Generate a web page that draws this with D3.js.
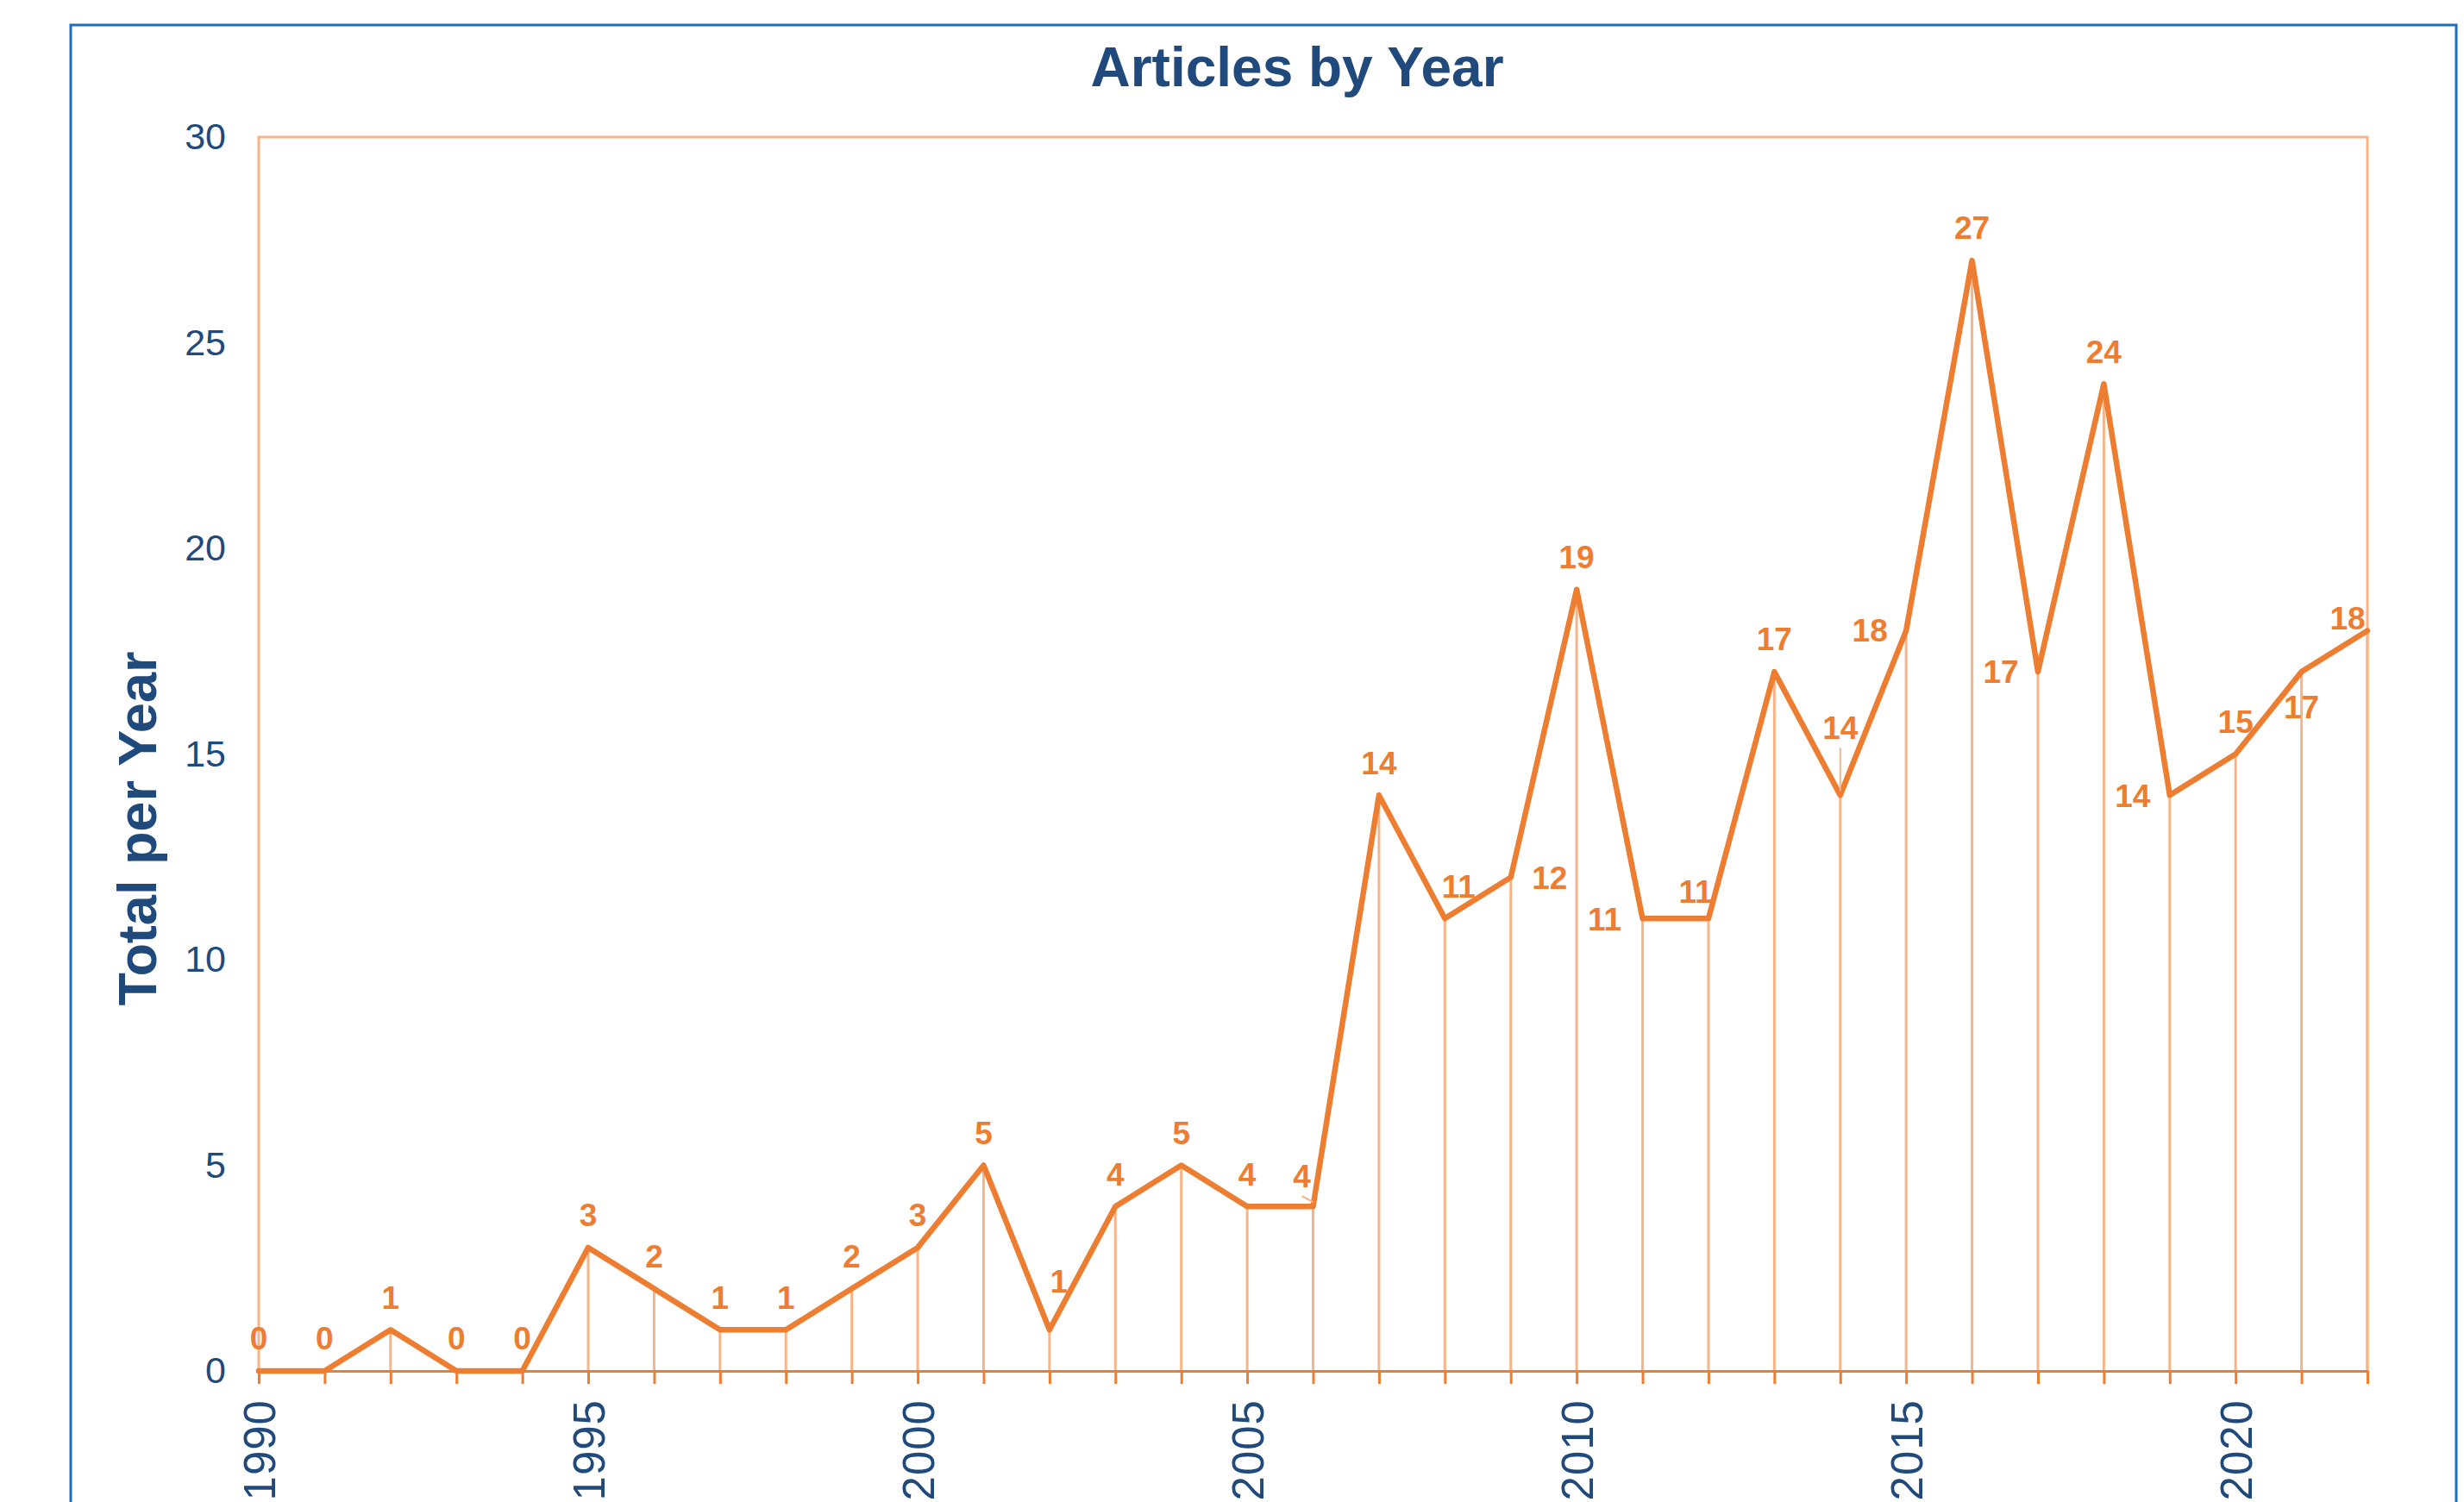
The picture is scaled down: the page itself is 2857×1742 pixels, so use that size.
<!DOCTYPE html>
<html>
<head>
<meta charset="utf-8">
<script src="https://cdn.jsdelivr.net/npm/d3@7"></script>
<style>
  body { margin: 0; background: #fff; }
  text { font-family: "Liberation Sans", Arial, Helvetica, sans-serif; }
</style>
</head>
<body>
<script>
// Articles by Year - line chart with drop lines

var years = [1990, 1991, 1992, 1993, 1994, 1995, 1996, 1997, 1998, 1999,
             2000, 2001, 2002, 2003, 2004, 2005, 2006, 2007, 2008, 2009,
             2010, 2011, 2012, 2013, 2014, 2015, 2016, 2017, 2018, 2019,
             2020, 2021, 2022];
var articles = [0, 0, 1, 0, 0, 3, 2, 1, 1, 2,
                3, 5, 1, 4, 5, 4, 4, 14, 11, 12,
                19, 11, 11, 17, 14, 18, 27, 17, 24, 14,
                15, 17, 18];
var yTicks = [0, 5, 10, 15, 20, 25, 30];
var xLabelYears = [1990, 1995, 2000, 2005, 2010, 2015, 2020];

// data labels sit above the point unless moved here (dx, dy from the point)
var labelNudge = {
  2002: [11, -57], 2006: [-13, -36], 2008: [16, -38], 2009: [45, 0],
  2011: [-44, 0], 2012: [-15, -32], 2014: [0, -79], 2015: [-42, -1],
  2017: [-43, 0], 2019: [-43, 0], 2021: [0, 41], 2022: [-23, -15]
};
var leaderYears = [2006, 2014];

var W = 2857, H = 1742;
var margin = {top: 159, right: W - 2745, bottom: H - 1590, left: 300},
    width = W - margin.left - margin.right,
    height = H - margin.top - margin.bottom;

var orange = "#ED7D31", light = "#F8B487", navy = "#214A7C";

var data = years.map(function(yr, i) { return {year: yr, value: articles[i]}; });

var x = d3.scaleLinear().domain([1990, 2022]).range([0, width]);
var y = d3.scaleLinear().domain([0, 30]).range([height, 0]);

var svg = d3.select("body").append("svg")
    .attr("width", W)
    .attr("height", H);

svg.append("rect").attr("width", W).attr("height", H).attr("fill", "#fff");

// outer chart border (runs off the bottom of the picture)
svg.append("rect")
    .attr("x", 82).attr("y", 29)
    .attr("width", 2848 - 82).attr("height", 1800)
    .attr("fill", "none")
    .attr("stroke", "#1C6DBB")
    .attr("stroke-width", 3);

// title
svg.append("text")
    .attr("x", 1504).attr("y", 100)
    .attr("text-anchor", "middle")
    .style("font-size", "64px")
    .style("font-weight", "bold")
    .attr("fill", navy)
    .text("Articles by Year");

var g = svg.append("g")
    .attr("transform", "translate(" + margin.left + "," + margin.top + ")");

// plot area border (left, top, right)
g.append("path")
    .attr("d", "M0," + height + "V0H" + width + "V" + height)
    .attr("fill", "none")
    .attr("stroke", light)
    .attr("stroke-width", 3);

// drop lines
g.selectAll(".drop")
    .data(data)
  .enter().append("line")
    .attr("class", "drop")
    .attr("x1", function(d) { return x(d.year); })
    .attr("x2", function(d) { return x(d.year); })
    .attr("y1", function(d) { return y(d.value); })
    .attr("y2", height)
    .attr("stroke", light)
    .attr("stroke-width", 3);

// x axis: tick at every year, label every five
var xAxis = g.append("g")
    .attr("transform", "translate(0," + height + ")")
    .call(d3.axisBottom(x)
      .tickValues(years)
      .tickSize(15)
      .tickSizeOuter(0)
      .tickFormat(function(d) { return xLabelYears.indexOf(d) >= 0 ? d : ""; }));
xAxis.select(".domain").attr("stroke", orange).attr("stroke-width", 3);
xAxis.selectAll(".tick line").attr("stroke", orange).attr("stroke-width", 3);
xAxis.selectAll(".tick text")
    .attr("transform", "rotate(-90)")
    .attr("x", -33)
    .attr("y", 0)
    .attr("dy", "0.36em")
    .style("text-anchor", "end")
    .style("font-size", "51px")
    .style("letter-spacing", "1px")
    .style("font-family", "\"Liberation Sans\", Arial, sans-serif")
    .attr("fill", navy);

// y axis labels only
var yAxis = g.append("g")
    .call(d3.axisLeft(y).tickValues(yTicks).tickSize(0).tickPadding(38));
yAxis.select(".domain").remove();
yAxis.selectAll(".tick text")
    .style("font-size", "43px")
    .style("font-family", "\"Liberation Sans\", Arial, sans-serif")
    .attr("fill", navy);

// y axis title
svg.append("text")
    .attr("transform", "translate(181,961) rotate(-90)")
    .attr("text-anchor", "middle")
    .style("font-size", "63px")
    .style("font-weight", "bold")
    .attr("fill", navy)
    .text("Total per Year");

// the line
var line = d3.line()
    .x(function(d) { return x(d.year); })
    .y(function(d) { return y(d.value); });

g.append("path")
    .datum(data)
    .attr("d", line)
    .attr("fill", "none")
    .attr("stroke", orange)
    .attr("stroke-width", 6.5)
    .attr("stroke-linejoin", "round")
    .attr("stroke-linecap", "round");

function labelPos(d) {
  var n = labelNudge[d.year] || [0, -38];
  return [x(d.year) + n[0], y(d.value) + n[1]];
}

// leader lines for labels that were pushed away
g.selectAll(".leader")
    .data(data.filter(function(d) { return leaderYears.indexOf(d.year) >= 0; }))
  .enter().append("line")
    .attr("class", "leader")
    .attr("x1", function(d) { return labelPos(d)[0]; })
    .attr("y1", function(d) { return labelPos(d)[1] + 24; })
    .attr("x2", function(d) { return x(d.year); })
    .attr("y2", function(d) { return y(d.value) - 5; })
    .attr("stroke", light)
    .attr("stroke-width", 2);

// data labels
g.selectAll(".lbl")
    .data(data)
  .enter().append("text")
    .attr("class", "lbl")
    .attr("x", function(d) { return labelPos(d)[0]; })
    .attr("y", function(d) { return labelPos(d)[1]; })
    .attr("dy", "0.36em")
    .attr("text-anchor", "middle")
    .style("font-size", "37px")
    .style("font-weight", "bold")
    .attr("fill", orange)
    .text(function(d) { return d.value; });
</script>
</body>
</html>
